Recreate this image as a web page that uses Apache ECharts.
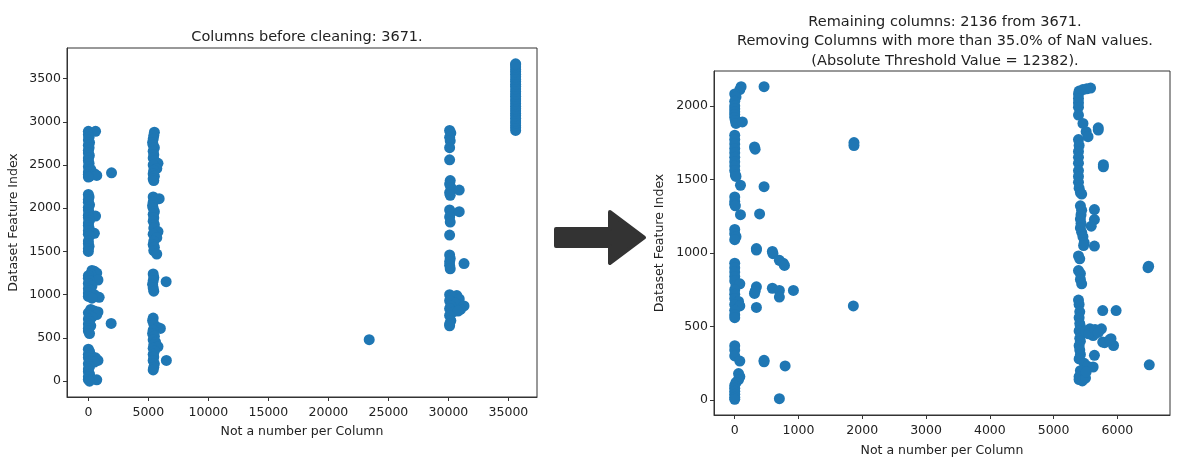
<!DOCTYPE html>
<html>
<head>
<meta charset="utf-8">
<script src="https://cdn.jsdelivr.net/npm/echarts@6/dist/echarts.min.js"></script>
<style>
  html, body { margin: 0; padding: 0; background: #fff; }
  #chart { width: 1188px; height: 462px; }
</style>
</head>
<body>
<div id="chart"></div>
<script>
// tick labels
const beforeXTicks = [0, 5000, 10000, 15000, 20000, 25000, 30000, 35000];
const beforeYTicks = [0, 500, 1000, 1500, 2000, 2500, 3000, 3500];
const afterXTicks = [0, 1000, 2000, 3000, 4000, 5000, 6000];
const afterYTicks = [0, 500, 1000, 1500, 2000];

// [NaN count, feature index] before cleaning
const beforeLowNan = [
  [0,2890],[120,2870],[600,2890],[0,2850],[60,2820],[0,2790],[100,2760],[0,2730],[60,2700],[0,2670],
  [0,2640],[80,2610],[0,2580],[0,2550],[60,2520],[0,2480],[200,2450],[0,2420],[500,2400],[0,2390],
  [100,2370],[700,2380],[0,2360],[1930,2410],
  [0,2160],[60,2130],[0,2100],[0,2070],[100,2040],[0,2010],[0,1980],[60,1950],[600,1910],[0,1920],
  [0,1890],[100,1860],[0,1830],[0,1800],[60,1770],[500,1710],[0,1740],[0,1700],[100,1680],[0,1620],
  [0,1590],[60,1560],[0,1530],[0,1500],
  [300,1280],[500,1270],[700,1250],[200,1240],[0,1220],[800,1170],[0,1190],[100,1160],[0,1130],
  [300,1100],[0,1070],[200,1050],[0,1020],[500,1000],[900,970],[0,980],[300,960],
  [200,830],[500,810],[800,800],[700,770],[0,790],[100,760],[300,740],[0,720],[100,690],[0,660],
  [200,640],[0,610],[0,580],[100,550],[1900,667],
  [0,370],[100,340],[0,310],[200,300],[600,270],[0,270],[800,240],[100,230],[500,220],[0,200],
  [100,170],[0,140],[0,110],[100,80],[0,50],[0,20],[700,15],[100,0]
];
const beforeMidNan = [
  [5500,2880],[5450,2840],[5400,2800],[5350,2760],[5400,2730],[5500,2700],[5400,2660],[5450,2620],
  [5400,2580],[5500,2550],[5800,2520],[5400,2500],[5700,2460],[5450,2440],[5400,2400],[5500,2370],
  [5400,2340],[5450,2320],
  [5400,2130],[5900,2110],[5600,2100],[5400,2070],[5350,2030],[5400,2000],[5500,1960],[5400,1930],
  [5450,1890],[5400,1850],[5500,1810],[5450,1770],[5800,1730],[5400,1700],[5700,1660],[5450,1620],
  [5400,1580],[5500,1550],[5450,1510],[5700,1470],
  [5400,1240],[5450,1200],[5400,1160],[5350,1120],[5400,1080],[5450,1040],[6480,1150],
  [5400,730],[5350,700],[5450,660],[5800,620],[6000,610],[5400,590],[5350,550],[5500,520],
  [5400,480],[5600,450],[5450,420],[5800,400],[5400,380],[5500,350],[5400,310],[5450,280],
  [5400,240],[5500,200],[5450,160],[5400,130],[6500,240],
  [23400,480]
];
const beforeHighNan = [
  [30100,2900],[30200,2870],[30100,2820],[30150,2780],[30100,2700],[30100,2560],[30150,2320],
  [30100,2280],[30200,2240],[30900,2210],[30100,2180],[30150,2150],[30100,1980],[30200,1950],
  [30900,1960],[30100,1900],[30150,1840],[30100,1690],[30100,1460],[30150,1420],[30100,1380],
  [31300,1360],[30100,1340],[30150,1300],
  [30100,1000],[30700,990],[30300,970],[30900,950],[30100,930],[30600,900],[31300,870],[30200,870],
  [31000,830],[30100,840],[30400,800],[30800,810],[30100,760],[30200,700],[30100,660],[30100,640]
];
// almost empty columns, all at the same NaN count
const fullNanCount = 35600;
const fullNanIdx = [
  2900,2930,2955,2985,3010,3040,3070,3095,3125,3150,3180,3210,3240,3265,3295,
  3320,3350,3380,3410,3435,3465,3490,3520,3550,3580,3605,3635,3660,3670
];

// [NaN count, feature index] after cleaning
const afterLowNan = [
  [100,2130],[80,2110],[0,2080],[20,2060],[0,2030],[0,2000],[0,1980],[0,1960],[0,1940],[0,1920],
  [10,1900],[20,1880],[120,1890],[0,1800],[0,1770],[0,1740],[0,1710],[0,1680],[0,1650],[0,1620],
  [0,1590],[0,1560],[10,1530],[20,1520],[90,1460],[0,1380],[0,1350],[0,1330],[10,1320],[90,1260],
  [0,1160],[0,1130],[20,1110],[0,1090],[0,930],[0,900],[0,870],[0,840],[0,810],[20,780],[80,790],
  [0,750],[0,720],[0,690],[60,670],[0,650],[80,640],[0,610],[0,580],[0,560],[0,370],[0,340],
  [0,300],[80,265],[60,180],[80,160],[60,140],[20,120],[0,100],[0,80],[0,60],[0,40],[0,20],[0,5],
  [460,2130],[310,1720],[320,1705],[460,1450],[390,1265],[340,1030],[340,1020],[590,1010],
  [600,995],[700,950],[760,930],[780,915],[340,770],[310,725],[320,740],[590,760],[700,745],
  [700,700],[920,745],[340,630],[460,260],[460,270],[790,232],[700,10],
  [1870,1750],[1870,1730],[1860,640]
];
const afterHighNan = [
  [5400,2100],[5460,2110],[5520,2115],[5580,2120],[5390,2080],[5390,2050],[5390,2020],[5390,1990],
  [5390,1937],[5460,1880],[5510,1824],[5540,1790],[5700,1850],[5700,1835],[5390,1770],[5400,1730],
  [5390,1690],[5390,1650],[5390,1610],[5390,1560],[5390,1520],[5390,1480],[5400,1440],[5420,1410],
  [5440,1400],[5780,1600],[5780,1585],[5420,1320],[5440,1290],[5430,1260],[5420,1230],[5430,1200],
  [5420,1170],[5440,1140],[5460,1110],[5480,1070],[5470,1050],[5640,1295],[5640,1227],[5590,1182],
  [5640,1047],[5390,980],[5410,960],[5390,880],[5420,860],[5420,820],[5440,790],[5390,680],
  [5400,650],[5410,600],[5400,560],[5410,520],[5420,500],[5400,470],[5430,450],[5410,420],
  [5420,400],[5400,370],[5410,340],[5420,310],[5400,280],[5480,250],[5530,230],[5420,200],
  [5400,160],[5400,140],[5450,130],[5500,150],[5770,608],[5980,608],[5750,484],[5900,417],
  [5940,371],[5770,394],[5620,439],[5570,484],[5640,304],[5620,225],[5510,191],[5500,470],
  [5550,450],[5650,480],[5700,460],[5800,390],[5880,410],
  [6480,900],[6490,910],[6500,240]
];

const font = 'DejaVu Sans';
const blue = '#1f77b4';
const ink = '#222';

const beforeAll = beforeLowNan.concat(beforeMidNan, beforeHighNan,
  fullNanIdx.map(function (y) { return [fullNanCount, y]; }));
const afterAll = afterLowNan.concat(afterHighNan);

// matplotlib-like 5% margins
function range(points, dim) {
  let lo = Infinity, hi = -Infinity;
  points.forEach(function (p) { lo = Math.min(lo, p[dim]); hi = Math.max(hi, p[dim]); });
  const pad = (hi - lo) * 0.05;
  return [lo - pad, hi + pad];
}

function plain(v) { return String(v); }

function xAxis(grid, pts, ticks, gap) {
  const r = range(pts, 0);
  return {
    gridIndex: grid, type: 'value', min: r[0], max: r[1],
    name: 'Not a number per Column', nameLocation: 'middle', nameGap: gap,
    nameTextStyle: { fontFamily: font, fontSize: 12.5, color: ink },
    axisLine: { show: true, onZero: false, lineStyle: { color: '#333', width: 1 } },
    axisTick: { show: true, length: 4, customValues: ticks, lineStyle: { color: '#333' } },
    axisLabel: { customValues: ticks, formatter: plain, margin: 9, fontFamily: font, fontSize: 12.5, color: ink },
    splitLine: { show: false }
  };
}
function yAxis(grid, pts, ticks, gap) {
  const r = range(pts, 1);
  return {
    gridIndex: grid, type: 'value', min: r[0], max: r[1],
    name: 'Dataset Feature Index', nameLocation: 'middle', nameGap: gap,
    nameTextStyle: { fontFamily: font, fontSize: 12.5, color: ink },
    axisLine: { show: true, onZero: false, lineStyle: { color: '#333', width: 1 } },
    axisTick: { show: true, length: 4, customValues: ticks, lineStyle: { color: '#333' } },
    axisLabel: { customValues: ticks, formatter: plain, margin: 6, fontFamily: font, fontSize: 12.5, color: ink },
    splitLine: { show: false }
  };
}
function scatter(idx, data) {
  return {
    type: 'scatter', xAxisIndex: idx, yAxisIndex: idx, data: data,
    symbolSize: 11, itemStyle: { color: blue, opacity: 1 }, animation: false
  };
}

const myChart = echarts.init(document.getElementById('chart'), null, { renderer: 'canvas' });
const option = {
  backgroundColor: '#fff',
  animation: false,
  title: [
    {
      text: 'Columns before cleaning: 3671.', left: 302, top: 25, textAlign: 'center',
      textStyle: { fontFamily: font, fontSize: 14.5, fontWeight: 'normal', color: ink }
    },
    {
      text: 'Remaining columns: 2136 from 3671.\nRemoving Columns with more than 35.0% of NaN values.\n(Absolute Threshold Value = 12382).',
      left: 940, top: 7, textAlign: 'center',
      textStyle: { fontFamily: font, fontSize: 14.5, fontWeight: 'normal', color: ink, lineHeight: 19.5 }
    }
  ],
  grid: [
    { left: 67, top: 48, width: 470, height: 349, show: true, borderColor: '#333', borderWidth: 1 },
    { left: 714, top: 71, width: 456, height: 348, show: true, borderColor: '#333', borderWidth: 1 }
  ],
  xAxis: [xAxis(0, beforeAll, beforeXTicks, 28), xAxis(1, afterAll, afterXTicks, 29)],
  yAxis: [yAxis(0, beforeAll, beforeYTicks, 47), yAxis(1, afterAll, afterYTicks, 48)],
  series: [
    scatter(0, beforeAll),
    scatter(1, afterAll)
  ],
  graphic: [
    {
      type: 'polygon',
      shape: { points: [[556, 229], [610, 229], [610, 212], [644, 237.5], [610, 263], [610, 246], [556, 246]] },
      style: { fill: '#333', stroke: '#333', lineWidth: 4, lineJoin: 'round' }
    }
  ]
};
option && myChart.setOption(option);
</script>
</body>
</html>
